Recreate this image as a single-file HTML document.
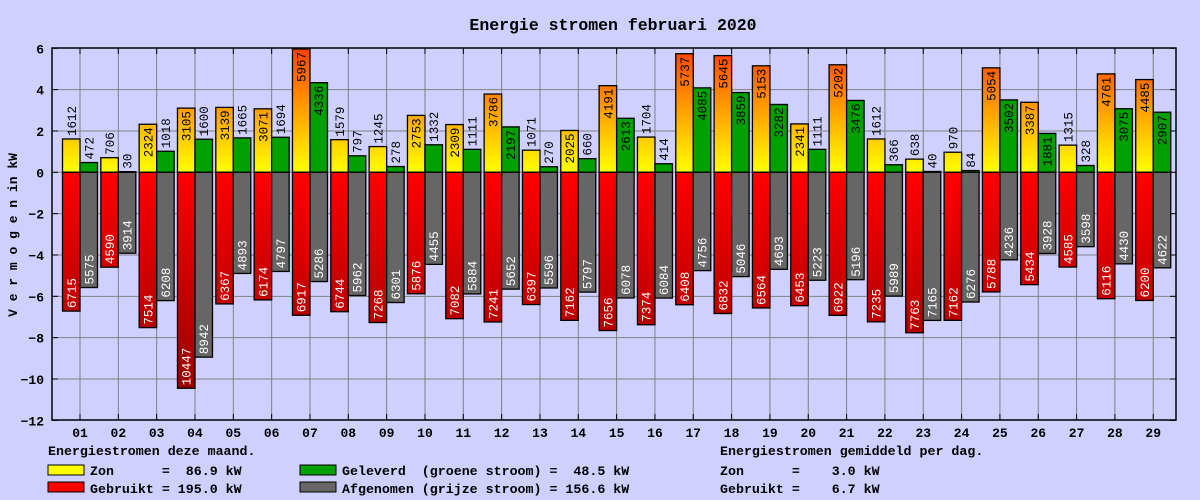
<!DOCTYPE html>
<html><head><meta charset="utf-8"><style>
html,body{margin:0;padding:0;background:#d0d0ff;}
svg{display:block;font-family:"Liberation Mono",monospace;}
</style></head><body>
<svg id="c" width="1200" height="500" xmlns="http://www.w3.org/2000/svg">
<defs>
<linearGradient id="gy" gradientUnits="userSpaceOnUse" x1="0" y1="172" x2="0" y2="48">
<stop offset="0" stop-color="#ffff00"/><stop offset="1" stop-color="#ff4000"/></linearGradient>
<linearGradient id="gr" gradientUnits="userSpaceOnUse" x1="0" y1="172" x2="0" y2="420">
<stop offset="0" stop-color="#ff0000"/><stop offset="1" stop-color="#8a0000"/></linearGradient>
</defs>
<rect width="1200" height="500" fill="#d0d0ff"/>
<text x="613" y="30" text-anchor="middle" font-size="16.5" font-weight="bold">Energie stromen februari 2020</text>
<g id="grid"></g>
<g id="bars"></g>
<rect x="52" y="48" width="1124" height="372" fill="none" stroke="#000" stroke-width="1.5"/>
<text transform="translate(17,235) rotate(-90)" text-anchor="middle" font-size="13" font-weight="bold">V e r m o g e n  in kW</text>
<g font-size="13.3" font-weight="bold">
<text x="48" y="455">Energiestromen deze maand.</text>
<rect x="48" y="465" width="36" height="10" fill="#ffff00" stroke="#000"/>
<text x="90" y="475" xml:space="preserve">Zon      =  86.9 kW</text>
<rect x="48" y="482" width="36" height="10" fill="#ff0000" stroke="#000"/>
<text x="90" y="493" xml:space="preserve">Gebruikt = 195.0 kW</text>
<rect x="300" y="465" width="36" height="10" fill="#00a000" stroke="#000"/>
<text x="342" y="475" xml:space="preserve">Geleverd  (groene stroom) =  48.5 kW</text>
<rect x="300" y="482" width="36" height="10" fill="#666666" stroke="#000"/>
<text x="342" y="493" xml:space="preserve">Afgenomen (grijze stroom) = 156.6 kW</text>
<text x="720" y="455">Energiestromen gemiddeld per dag.</text>
<text x="720" y="475" xml:space="preserve">Zon      =    3.0 kW</text>
<text x="720" y="493" xml:space="preserve">Gebruikt =    6.7 kW</text>
</g>
</svg>
<script>
var D=[[1612,472,6715,5575],[706,30,4590,3914],[2324,1018,7514,6208],[3105,1600,10447,8942],[3139,1665,6367,4893],[3071,1694,6174,4797],[5967,4336,6917,5286],[1579,797,6744,5962],[1245,278,7268,6301],[2753,1332,5876,4455],[2309,1111,7082,5884],[3786,2197,7241,5652],[1071,270,6397,5596],[2025,660,7162,5797],[4191,2613,7656,6078],[1704,414,7374,6084],[5737,4085,6408,4756],[5645,3859,6832,5046],[5153,3282,6564,4693],[2341,1111,6453,5223],[5202,3476,6922,5196],[1612,366,7235,5989],[638,40,7763,7165],[970,84,7162,6276],[5054,3502,5788,4236],[3387,1881,5434,3928],[1315,328,4585,3598],[4761,3075,6116,4430],[4485,2907,6200,4622]];
var NS="http://www.w3.org/2000/svg";
function el(p,t,a,txt){var e=document.createElementNS(NS,t);for(var k in a)e.setAttribute(k,a[k]);if(txt!=null)e.textContent=txt;p.appendChild(e);return e;}
var Z=172.3,S=20.67,g=document.getElementById('grid'),b=document.getElementById('bars');
function Y(v){return Z-v*S;}
for(var v=-12;v<=6;v+=2){var y=Y(v);
 if(v>-12&&v<6)el(g,'line',{x1:52,x2:1176,y1:y,y2:y,stroke:'#808080','stroke-width':1});
 el(g,'line',{x1:52,x2:58,y1:y,y2:y,stroke:'#000'});el(g,'line',{x1:1170,x2:1176,y1:y,y2:y,stroke:'#000'});
 el(g,'text',{x:44,y:y+5,'text-anchor':'end','font-size':13,'font-weight':'bold'},v<0?'\u2212'+(-v):v);}
for(var i=0;i<29;i++){var cx=80+i*38.33;
 el(g,'line',{x1:cx,x2:cx,y1:48,y2:420,stroke:'#808080'});
 el(g,'line',{x1:cx,x2:cx,y1:48,y2:54,stroke:'#000'});el(g,'line',{x1:cx,x2:cx,y1:414,y2:420,stroke:'#000'});
 el(g,'text',{x:cx,y:437,'text-anchor':'middle','font-size':13,'font-weight':'bold'},(i<9?'0':'')+(i+1));
 var d=D[i],w=17.5;
 var pos=[[cx-w,d[0],'url(#gy)'],[cx,d[1],'#00a000']];
 var neg=[[cx-w,d[2],'url(#gr)'],[cx,d[3],'#666666']];
 pos.forEach(function(p){var h=p[1]/1000*S,top=Z-h;
  el(b,'rect',{x:p[0],y:top,width:w,height:h,fill:p[2],stroke:'#000','stroke-width':1.3});
  var tx=p[0]+w/2+4.5,len=p[1].toString().length*7.6;
  if(h>len+5)el(b,'text',{transform:'translate('+tx+','+(top+3)+') rotate(-90)','text-anchor':'end','font-size':12.5},p[1]);
  else el(b,'text',{transform:'translate('+tx+','+(top-3)+') rotate(-90)','font-size':12.5},p[1]);});
 neg.forEach(function(p){var h=p[1]/1000*S,bot=Z+h;
  el(b,'rect',{x:p[0],y:Z,width:w,height:h,fill:p[2],stroke:'#000','stroke-width':1.3});
  var tx=p[0]+w/2+4.5;
  el(b,'text',{transform:'translate('+tx+','+(bot-3)+') rotate(-90)','font-size':12.5,fill:'#fff'},p[1]);});
}
</script>
</body></html>
